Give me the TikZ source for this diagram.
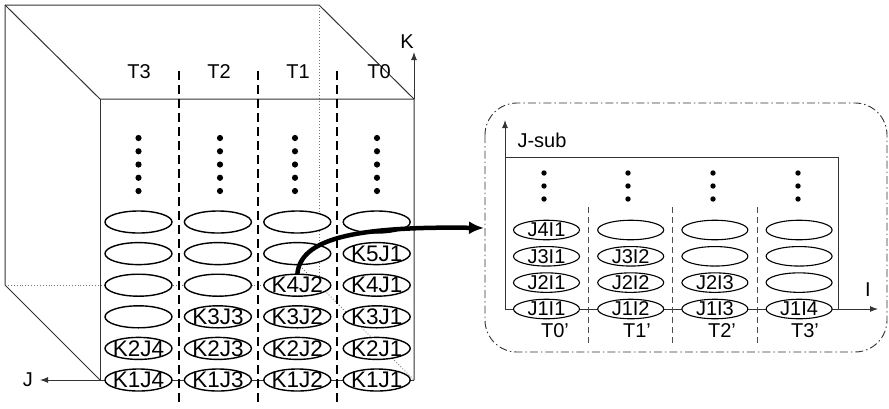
\documentclass[tikz,border=0pt]{standalone}
\usepackage{fontspec}
\setmainfont{Liberation Sans}
\usetikzlibrary{shapes.geometric,arrows.meta,calc}
\begin{document}
\begin{tikzpicture}[x=1pt,y=-1pt,
  boxline/.style={line width=1pt, draw=black!80},
  backline/.style={line width=0.9pt, draw=black!55, dotted},
  cell/.style={ellipse, draw=black, line width=1.4pt, fill=white, minimum width=67pt, minimum height=22pt, inner sep=0pt},
  celltext/.style={inner sep=0pt, font=\fontsize{22.5}{22.5}\selectfont},
  subcell/.style={cell, line width=1.1pt, minimum width=66pt, minimum height=19.5pt},
  subtext/.style={inner sep=0pt, font=\fontsize{20}{20}\selectfont},
  colsep/.style={line width=1.1pt, dash pattern=on 9pt off 5pt},
  subsep/.style={line width=0.9pt, draw=black!70, dash pattern=on 6pt off 4pt},
  axis/.style={line width=1pt, draw=black!80, -{Latex[length=8pt,width=6pt]}},
  lbl/.style={font=\fontsize{20}{20}\selectfont, inner sep=0pt},
  bigarrow/.style={line width=4.5pt, -{Latex[length=15pt,width=13pt]}},
  panel/.style={line width=0.9pt, draw=black!80, dash pattern=on 8pt off 3pt on 1.5pt off 3pt, rounded corners=32pt}
]
\useasboundingbox (0,0) rectangle (889,408);

% ---------- cube corners ----------
\coordinate (btl) at (5,5);
\coordinate (btr) at (319,5);
\coordinate (bbl) at (5,285);
\coordinate (bbr) at (319,285);
\coordinate (ftl) at (100,99);
\coordinate (ftr) at (414,99);
\coordinate (fbl) at (100,380);
\coordinate (fbr) at (414,380);
\coordinate (jtip) at (40,380);
\coordinate (ktip) at (414,52);

% hidden (dotted) edges
\draw[backline] (btr) -- (bbr);
\draw[backline] (bbl) -- (bbr);
\draw[backline] ($(bbr)!-0.2!(fbr)$) -- (fbr);

% visible edges
\draw[boxline] (btl) -- (btr) -- (ftr);
\draw[boxline] (btl) -- (ftl) -- (ftr) -- (fbr);
\draw[boxline] (ftl) -- (fbl);
\draw[boxline] (btl) -- (bbl) -- (fbl);
\draw[axis] (fbr) -- (jtip);
\draw[axis] (ftr) -- (ktip);
\node[lbl] (Jlab) at (28,380) {J};
\node[lbl] (Klab) at (407,42) {K};

% column separators
\foreach \x in {179,258,337} \draw[colsep] (\x,71) -- (\x,406);

% column titles
\node[lbl] (T3) at (139,72) {T3};
\node[lbl] (T2) at (219,72) {T2};
\node[lbl] (T1) at (298,72) {T1};
\node[lbl] (T0) at (379,72) {T0};

% dots
\foreach \x in {138.5,220,295,377}
  \foreach \y in {138,151.25,164.5,177.75,191}
    \fill (\x,\y) circle (3.1pt);

% ellipses (columns: J4 J3 J2 J1)
\foreach \r/\y in {1/222,2/253.6,3/285.2,4/316.8,5/348.4,6/380}
  \foreach \c/\x in {4/138.5,3/217.9,2/297.3,1/376.7}
    \node[cell] (a\r\c) at (\x,\y) {};

\node[celltext] (t21) at (a21) {K5J1};
\node[celltext] (t32) at (a32) {K4J2};
\node[celltext] (t31) at (a31) {K4J1};
\node[celltext] (t43) at (a43) {K3J3};
\node[celltext] (t42) at (a42) {K3J2};
\node[celltext] (t41) at (a41) {K3J1};
\node[celltext] (t54) at (a54) {K2J4};
\node[celltext] (t53) at (a53) {K2J3};
\node[celltext] (t52) at (a52) {K2J2};
\node[celltext] (t51) at (a51) {K2J1};
\node[celltext] (t64) at (a64) {K1J4};
\node[celltext] (t63) at (a63) {K1J3};
\node[celltext] (t62) at (a62) {K1J2};
\node[celltext] (t61) at (a61) {K1J1};

% ---------- right panel ----------
\draw[panel] (485,103) rectangle (887,352);
\coordinate (entry) at (484,228);

\coordinate (sorig) at (505,309);
\coordinate (jsubtip) at (505,120);
\coordinate (itip) at (878,309);
\coordinate (stl) at (505,157);
\coordinate (str) at (838,157);
\coordinate (sbr) at (838,309);

\draw[boxline] (stl) -- (str) -- (sbr);
\draw[axis] (sorig) -- (jsubtip);
\draw[axis] (sorig) -- (itip);
\node[lbl] (Jsub) at (542,140) {J-sub};
\node[lbl] (Ilab) at (868,290) {I};

\foreach \x in {588,672,757} \draw[subsep] (\x,207) -- (\x,343);

\foreach \x in {544,628,713,798}
  \foreach \y in {173,186,199}
    \fill (\x,\y) circle (2.7pt);

\foreach \r/\y in {1/230,2/256.3,3/282.6,4/309}
  \foreach \c/\x in {1/546.5,2/630.7,3/714.9,4/799.1}
    \node[subcell] (b\r\c) at (\x,\y) {};

\node[subtext] (s11) at (b11) {J4I1};
\node[subtext] (s21) at (b21) {J3I1};
\node[subtext] (s22) at (b22) {J3I2};
\node[subtext] (s31) at (b31) {J2I1};
\node[subtext] (s32) at (b32) {J2I2};
\node[subtext] (s33) at (b33) {J2I3};
\node[subtext] (s41) at (b41) {J1I1};
\node[subtext] (s42) at (b42) {J1I2};
\node[subtext] (s43) at (b43) {J1I3};
\node[subtext] (s44) at (b44) {J1I4};

\node[lbl] (T0p) at (555,331) {T0'};
\node[lbl] (T1p) at (637,331) {T1'};
\node[lbl] (T2p) at (722,331) {T2'};
\node[lbl] (T3p) at (805,331) {T3'};

% ---------- big curved arrow ----------
\draw[bigarrow] ([yshift=-1pt]a32.north) .. controls (300,240) and (350,226) .. (entry);

\end{tikzpicture}
\end{document}
